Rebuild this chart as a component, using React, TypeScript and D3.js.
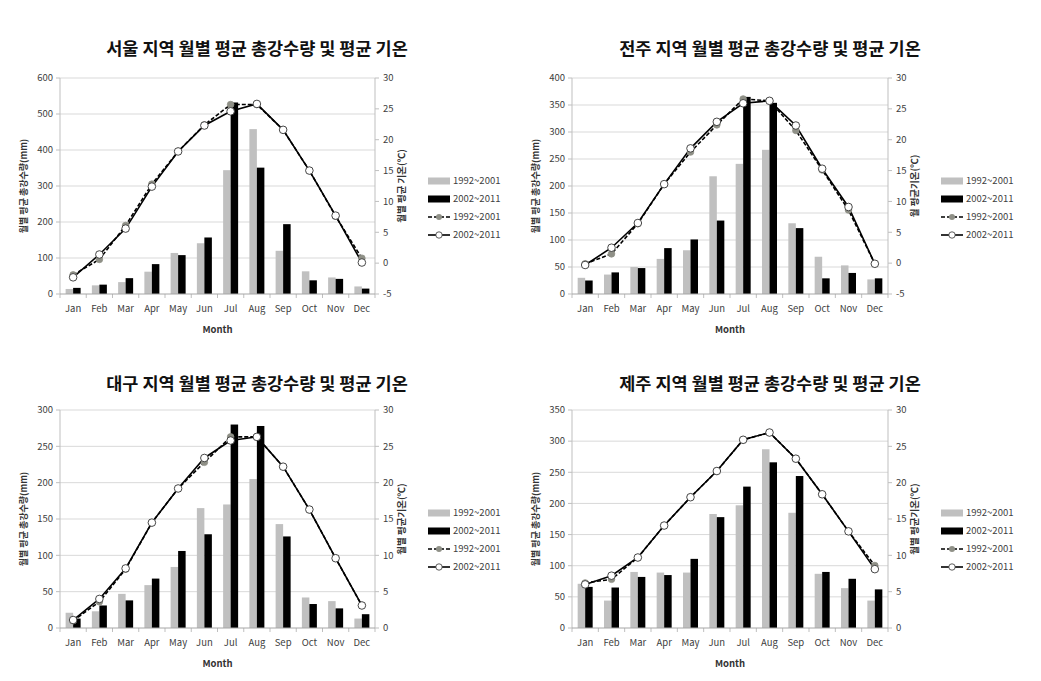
import React from "react";
import * as d3 from "d3";

const months = ["Jan", "Feb", "Mar", "Apr", "May", "Jun", "Jul", "Aug", "Sep", "Oct", "Nov", "Dec"];
const seriesLabels = ["1992~2001", "2002~2011"];

const titles = [
  "서울 지역 월별 평균 총강수량 및 평균 기온",
  "전주 지역 월별 평균 총강수량 및 평균 기온",
  "대구 지역 월별 평균 총강수량 및 평균 기온",
  "제주 지역 월별 평균 총강수량 및 평균 기온",
];
const leftAxisTitle = "월별 평균 총강수량(mm)";
const rightAxisTitles = ["월별 평균 기온(℃)", "월 평균기온(℃)", "월별 평균기온(℃)", "월별 평균기온(℃)"];

// Seoul
const seoulRain92 = [14, 24, 33, 62, 114, 141, 344, 458, 120, 63, 46, 21];
const seoulRain02 = [17, 26, 44, 83, 108, 157, 532, 351, 194, 38, 42, 15];
const seoulTemp92 = [-1.9, 0.6, 6.1, 12.8, 18.1, 22.4, 25.7, 25.7, 21.6, 15.0, 7.6, 0.8];
const seoulTemp02 = [-2.3, 1.4, 5.6, 12.4, 18.1, 22.3, 24.6, 25.8, 21.6, 15.0, 7.7, 0.1];
// Jeonju
const jeonjuRain92 = [30, 36, 50, 65, 81, 218, 241, 267, 131, 69, 53, 27];
const jeonjuRain02 = [25, 40, 48, 85, 101, 136, 365, 354, 122, 29, 39, 29];
const jeonjuTemp92 = [-0.1, 1.5, 6.4, 12.8, 18.0, 22.4, 26.6, 26.3, 21.5, 15.1, 8.6, -0.1];
const jeonjuTemp02 = [-0.3, 2.5, 6.5, 12.8, 18.6, 22.9, 25.9, 26.3, 22.3, 15.3, 9.1, -0.1];
// Daegu
const daeguRain92 = [21, 23, 47, 59, 84, 165, 170, 205, 143, 42, 37, 13];
const daeguRain02 = [13, 31, 38, 68, 106, 129, 280, 278, 126, 33, 27, 19];
const daeguTemp92 = [1.0, 3.6, 8.1, 14.5, 19.2, 22.8, 26.3, 26.3, 22.2, 16.3, 9.6, 3.1];
const daeguTemp02 = [1.1, 4.0, 8.2, 14.5, 19.2, 23.4, 25.8, 26.3, 22.2, 16.3, 9.6, 3.1];
// Jeju
const jejuRain92 = [71, 44, 90, 89, 89, 183, 197, 287, 185, 87, 64, 44];
const jejuRain02 = [66, 65, 82, 85, 111, 178, 227, 266, 244, 90, 79, 62];
const jejuTemp92 = [6.2, 6.7, 9.7, 14.1, 18.0, 21.6, 25.9, 26.9, 23.3, 18.4, 13.3, 8.6];
const jejuTemp02 = [6.0, 7.2, 9.7, 14.1, 18.0, 21.6, 25.9, 26.9, 23.3, 18.4, 13.3, 8.1];

const rainMax = [600, 400, 300, 350];
const rainStep = [100, 50, 50, 50];
const tempMin = [-5, -5, 0, 0];
const tempMax = [30, 30, 30, 30];

const rain92 = [seoulRain92, jeonjuRain92, daeguRain92, jejuRain92];
const rain02 = [seoulRain02, jeonjuRain02, daeguRain02, jejuRain02];
const temp92 = [seoulTemp92, jeonjuTemp92, daeguTemp92, jejuTemp92];
const temp02 = [seoulTemp02, jeonjuTemp02, daeguTemp02, jejuTemp02];

const geoms = [
  { left: 60, right: 375, top: 78, bottom: 294, titleX: 257, titleY: 55, legendX: 428, legendY: 181 },
  { left: 572, right: 888, top: 78, bottom: 294, titleX: 770, titleY: 55, legendX: 941, legendY: 181 },
  { left: 60, right: 375, top: 410, bottom: 628, titleX: 257, titleY: 390, legendX: 428, legendY: 513 },
  { left: 572, right: 888, top: 410, bottom: 628, titleX: 770, titleY: 390, legendX: 941, legendY: 513 },
];

const FONT = "'Noto Sans CJK KR', 'Noto Sans', sans-serif";
const GRAY_BAR = "#c0c0c0";
const TXT = "#404040";

function Panel({ i }: { i: number }) {
  const g = geoms[i];
  const x = d3.scaleBand<string>().domain(months).range([g.left, g.right]).padding(0);
  const yL = d3.scaleLinear().domain([0, rainMax[i]]).range([g.bottom, g.top]);
  const yR = d3.scaleLinear().domain([tempMin[i], tempMax[i]]).range([g.bottom, g.top]);
  const lTicks = d3.range(0, rainMax[i] + 0.001, rainStep[i]);
  const rTicks = d3.range(tempMin[i], tempMax[i] + 0.001, 5);
  const cx = (m: string) => (x(m) as number) + x.bandwidth() / 2;
  const line = d3
    .line<number>()
    .x((_, k) => cx(months[k]))
    .y((d) => yR(d));
  const bw = 7.5;
  const midY = (g.top + g.bottom) / 2;
  return (
    <g>
      <text x={g.titleX} y={g.titleY} textAnchor="middle" fontSize={17.5} fontWeight="bold" fill="#111" fontFamily={FONT}>
        {titles[i]}
      </text>
      {lTicks.map((t) => (
        <g key={"l" + t}>
          {t > 0 && <line x1={g.left} x2={g.right} y1={yL(t)} y2={yL(t)} stroke="#d9d9d9" strokeWidth={1} />}
          <line x1={g.left - 4} x2={g.left} y1={yL(t)} y2={yL(t)} stroke="#bfbfbf" />
          <text x={g.left - 7} y={yL(t)} dy="0.35em" textAnchor="end" fontSize={9.5} fill={TXT} fontFamily={FONT}>
            {t}
          </text>
        </g>
      ))}
      {rTicks.map((t) => (
        <g key={"r" + t}>
          <line x1={g.right} x2={g.right + 4} y1={yR(t)} y2={yR(t)} stroke="#bfbfbf" />
          <text x={g.right + 8} y={yR(t)} dy="0.35em" textAnchor="start" fontSize={9.5} fill={TXT} fontFamily={FONT}>
            {t}
          </text>
        </g>
      ))}
      <line x1={g.left} x2={g.left} y1={g.top} y2={g.bottom} stroke="#bfbfbf" />
      <line x1={g.right} x2={g.right} y1={g.top} y2={g.bottom} stroke="#bfbfbf" />
      {months.map((m, k) => (
        <g key={m}>
          <rect x={cx(m) - bw} y={yL(rain92[i][k])} width={bw} height={g.bottom - yL(rain92[i][k])} fill={GRAY_BAR} />
          <rect x={cx(m)} y={yL(rain02[i][k])} width={bw} height={g.bottom - yL(rain02[i][k])} fill="#000" />
          <text x={cx(m)} y={g.bottom + 18} textAnchor="middle" fontSize={9.5} fill={TXT} fontFamily={FONT}>
            {m}
          </text>
        </g>
      ))}
      {months.map((m) => (
        <line key={"xt" + m} x1={x(m) as number} x2={x(m) as number} y1={g.bottom} y2={g.bottom + 4} stroke="#bfbfbf" />
      ))}
      <line x1={g.right} x2={g.right} y1={g.bottom} y2={g.bottom + 4} stroke="#bfbfbf" />
      <line x1={g.left} x2={g.right} y1={g.bottom} y2={g.bottom} stroke="#a6a6a6" />
      <path d={line(temp92[i]) || ""} fill="none" stroke="#000" strokeWidth={1.6} strokeDasharray="4,2" />
      <path d={line(temp02[i]) || ""} fill="none" stroke="#000" strokeWidth={1.6} />
      {months.map((m, k) => (
        <circle key={"c92" + m} cx={cx(m)} cy={yR(temp92[i][k])} r={3.3} fill="#8f9087" stroke="#8f9087" strokeWidth={0.8} />
      ))}
      {months.map((m, k) => (
        <circle key={"c02" + m} cx={cx(m)} cy={yR(temp02[i][k])} r={3.8} fill="#fff" stroke="#333" strokeWidth={0.9} />
      ))}
      <text x={(g.left + g.right) / 2} y={g.bottom + 39} textAnchor="middle" fontSize={9.5} fontWeight="bold" fill="#333" fontFamily={FONT}>
        Month
      </text>
      <text
        transform={`translate(${g.left - 33},${midY}) rotate(-90)`}
        textAnchor="middle"
        fontSize={9}
        fontWeight="bold"
        fill="#333"
        fontFamily={FONT}
      >
        {leftAxisTitle}
      </text>
      <text
        transform={`translate(${g.right + 30},${midY}) rotate(-90)`}
        textAnchor="middle"
        fontSize={9.5}
        fontWeight="bold"
        fill="#333"
        fontFamily={FONT}
      >
        {rightAxisTitles[i]}
      </text>
      {/* legend */}
      <g transform={`translate(${g.legendX},${g.legendY})`} fontFamily={FONT} fontSize={9.5} fill={TXT}>
        <rect x={0} y={-3.5} width={22} height={7} fill={GRAY_BAR} />
        <text x={25} y={0} dy="0.35em">{seriesLabels[0]}</text>
        <rect x={0} y={14.5} width={22} height={7} fill="#000" />
        <text x={25} y={18} dy="0.35em">{seriesLabels[1]}</text>
        <line x1={0} x2={22} y1={36} y2={36} stroke="#000" strokeWidth={1.6} strokeDasharray="4,2" />
        <circle cx={11} cy={36} r={3} fill="#8f9087" />
        <text x={25} y={36} dy="0.35em">{seriesLabels[0]}</text>
        <line x1={0} x2={22} y1={54} y2={54} stroke="#000" strokeWidth={1.6} />
        <circle cx={11} cy={54} r={3.2} fill="#fff" stroke="#333" strokeWidth={0.8} />
        <text x={25} y={54} dy="0.35em">{seriesLabels[1]}</text>
      </g>
    </g>
  );
}

export default function App() {
  return (
    <svg
      width={1041}
      height={681}
      style={{ position: "absolute", left: 0, top: 0, background: "#fff" }}
      xmlns="http://www.w3.org/2000/svg"
    >
      <rect width={1041} height={681} fill="#fff" />
      {[0, 1, 2, 3].map((i) => (
        <Panel key={i} i={i} />
      ))}
    </svg>
  );
}
